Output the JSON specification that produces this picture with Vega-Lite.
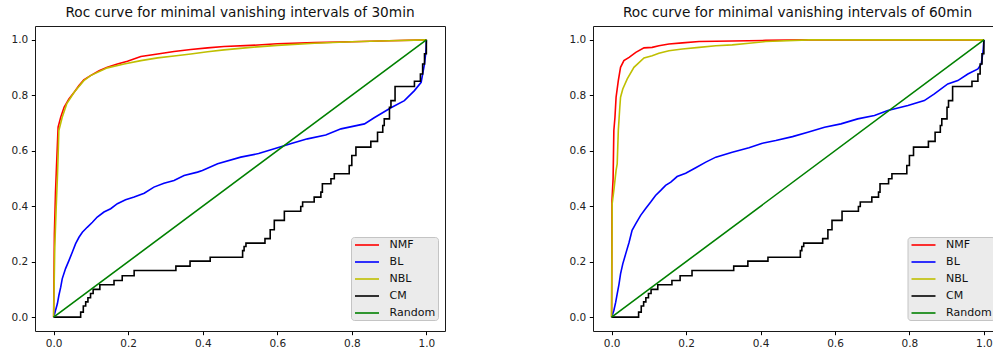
{
  "$schema": "https://vega.github.io/schema/vega-lite/v6.json",
  "padding": {"left": 10, "top": 5, "right": 0, "bottom": 0},
  "spacing": 148,
  "bounds": "flush",
  "datasets": {
    "p30": [
      {"s":"NMF","x":0,"y":0},{"s":"NMF","x":0.002,"y":0.3},{"s":"NMF","x":0.005,"y":0.45},{"s":"NMF","x":0.007,"y":0.52},{"s":"NMF","x":0.010,"y":0.62},{"s":"NMF","x":0.012,"y":0.685},{"s":"NMF","x":0.019,"y":0.721},{"s":"NMF","x":0.028,"y":0.757},{"s":"NMF","x":0.041,"y":0.787},{"s":"NMF","x":0.055,"y":0.811},{"s":"NMF","x":0.068,"y":0.835},{"s":"NMF","x":0.081,"y":0.856},{"s":"NMF","x":0.099,"y":0.871},{"s":"NMF","x":0.122,"y":0.889},{"s":"NMF","x":0.144,"y":0.901},{"s":"NMF","x":0.171,"y":0.913},{"s":"NMF","x":0.198,"y":0.923},{"s":"NMF","x":0.234,"y":0.94},{"s":"NMF","x":0.279,"y":0.949},{"s":"NMF","x":0.323,"y":0.958},{"s":"NMF","x":0.368,"y":0.965},{"s":"NMF","x":0.413,"y":0.971},{"s":"NMF","x":0.457,"y":0.976},{"s":"NMF","x":0.529,"y":0.98},{"s":"NMF","x":0.6,"y":0.986},{"s":"NMF","x":0.7,"y":0.99},{"s":"NMF","x":0.8,"y":0.993},{"s":"NMF","x":0.9,"y":0.997},{"s":"NMF","x":1,"y":1},
      {"s":"BL","x":0,"y":0},{"s":"BL","x":0.001,"y":0.003},{"s":"BL","x":0.005,"y":0.024},{"s":"BL","x":0.010,"y":0.048},{"s":"BL","x":0.014,"y":0.078},{"s":"BL","x":0.019,"y":0.108},{"s":"BL","x":0.023,"y":0.138},{"s":"BL","x":0.032,"y":0.175},{"s":"BL","x":0.041,"y":0.204},{"s":"BL","x":0.050,"y":0.234},{"s":"BL","x":0.059,"y":0.265},{"s":"BL","x":0.068,"y":0.288},{"s":"BL","x":0.077,"y":0.306},{"s":"BL","x":0.090,"y":0.324},{"s":"BL","x":0.104,"y":0.342},{"s":"BL","x":0.117,"y":0.361},{"s":"BL","x":0.135,"y":0.379},{"s":"BL","x":0.153,"y":0.391},{"s":"BL","x":0.171,"y":0.409},{"s":"BL","x":0.193,"y":0.423},{"s":"BL","x":0.216,"y":0.433},{"s":"BL","x":0.243,"y":0.447},{"s":"BL","x":0.269,"y":0.469},{"s":"BL","x":0.296,"y":0.483},{"s":"BL","x":0.323,"y":0.493},{"s":"BL","x":0.35,"y":0.511},{"s":"BL","x":0.386,"y":0.523},{"s":"BL","x":0.399,"y":0.529},{"s":"BL","x":0.44,"y":0.553},{"s":"BL","x":0.502,"y":0.577},{"s":"BL","x":0.55,"y":0.59},{"s":"BL","x":0.592,"y":0.607},{"s":"BL","x":0.64,"y":0.627},{"s":"BL","x":0.681,"y":0.643},{"s":"BL","x":0.73,"y":0.657},{"s":"BL","x":0.771,"y":0.679},{"s":"BL","x":0.834,"y":0.697},{"s":"BL","x":0.86,"y":0.719},{"s":"BL","x":0.905,"y":0.755},{"s":"BL","x":0.941,"y":0.781},{"s":"BL","x":0.968,"y":0.817},{"s":"BL","x":0.986,"y":0.847},{"s":"BL","x":0.995,"y":0.913},{"s":"BL","x":0.999,"y":0.96},{"s":"BL","x":1,"y":1},
      {"s":"NBL","x":0,"y":0},{"s":"NBL","x":0.003,"y":0.25},{"s":"NBL","x":0.007,"y":0.4},{"s":"NBL","x":0.010,"y":0.5},{"s":"NBL","x":0.012,"y":0.58},{"s":"NBL","x":0.014,"y":0.673},{"s":"NBL","x":0.023,"y":0.721},{"s":"NBL","x":0.035,"y":0.769},{"s":"NBL","x":0.055,"y":0.811},{"s":"NBL","x":0.081,"y":0.853},{"s":"NBL","x":0.099,"y":0.871},{"s":"NBL","x":0.144,"y":0.899},{"s":"NBL","x":0.189,"y":0.913},{"s":"NBL","x":0.234,"y":0.925},{"s":"NBL","x":0.279,"y":0.935},{"s":"NBL","x":0.323,"y":0.942},{"s":"NBL","x":0.368,"y":0.949},{"s":"NBL","x":0.413,"y":0.957},{"s":"NBL","x":0.457,"y":0.964},{"s":"NBL","x":0.529,"y":0.973},{"s":"NBL","x":0.6,"y":0.98},{"s":"NBL","x":0.7,"y":0.988},{"s":"NBL","x":0.8,"y":0.993},{"s":"NBL","x":0.9,"y":0.997},{"s":"NBL","x":1,"y":1}
    ],
    "p60": [
      {"s":"NMF","x":0,"y":0},{"s":"NMF","x":0.0005,"y":0.2},{"s":"NMF","x":0.001,"y":0.42},{"s":"NMF","x":0.004,"y":0.5},{"s":"NMF","x":0.006,"y":0.673},{"s":"NMF","x":0.009,"y":0.721},{"s":"NMF","x":0.012,"y":0.793},{"s":"NMF","x":0.018,"y":0.853},{"s":"NMF","x":0.024,"y":0.901},{"s":"NMF","x":0.033,"y":0.925},{"s":"NMF","x":0.047,"y":0.937},{"s":"NMF","x":0.065,"y":0.955},{"s":"NMF","x":0.087,"y":0.971},{"s":"NMF","x":0.109,"y":0.973},{"s":"NMF","x":0.127,"y":0.979},{"s":"NMF","x":0.154,"y":0.985},{"s":"NMF","x":0.19,"y":0.989},{"s":"NMF","x":0.235,"y":0.994},{"s":"NMF","x":0.324,"y":0.996},{"s":"NMF","x":0.414,"y":0.998},{"s":"NMF","x":0.53,"y":1},{"s":"NMF","x":1,"y":1},
      {"s":"BL","x":0,"y":0},{"s":"BL","x":0.006,"y":0.024},{"s":"BL","x":0.011,"y":0.054},{"s":"BL","x":0.015,"y":0.084},{"s":"BL","x":0.02,"y":0.12},{"s":"BL","x":0.024,"y":0.156},{"s":"BL","x":0.03,"y":0.192},{"s":"BL","x":0.038,"y":0.229},{"s":"BL","x":0.047,"y":0.27},{"s":"BL","x":0.055,"y":0.313},{"s":"BL","x":0.065,"y":0.337},{"s":"BL","x":0.078,"y":0.367},{"s":"BL","x":0.091,"y":0.391},{"s":"BL","x":0.105,"y":0.415},{"s":"BL","x":0.118,"y":0.439},{"s":"BL","x":0.132,"y":0.457},{"s":"BL","x":0.145,"y":0.475},{"s":"BL","x":0.159,"y":0.487},{"s":"BL","x":0.176,"y":0.507},{"s":"BL","x":0.199,"y":0.519},{"s":"BL","x":0.226,"y":0.539},{"s":"BL","x":0.253,"y":0.559},{"s":"BL","x":0.28,"y":0.577},{"s":"BL","x":0.324,"y":0.595},{"s":"BL","x":0.369,"y":0.611},{"s":"BL","x":0.405,"y":0.627},{"s":"BL","x":0.441,"y":0.637},{"s":"BL","x":0.486,"y":0.651},{"s":"BL","x":0.527,"y":0.667},{"s":"BL","x":0.572,"y":0.685},{"s":"BL","x":0.616,"y":0.697},{"s":"BL","x":0.661,"y":0.715},{"s":"BL","x":0.706,"y":0.727},{"s":"BL","x":0.742,"y":0.745},{"s":"BL","x":0.796,"y":0.763},{"s":"BL","x":0.84,"y":0.781},{"s":"BL","x":0.867,"y":0.805},{"s":"BL","x":0.903,"y":0.841},{"s":"BL","x":0.93,"y":0.853},{"s":"BL","x":0.957,"y":0.877},{"s":"BL","x":0.984,"y":0.895},{"s":"BL","x":0.993,"y":0.913},{"s":"BL","x":0.998,"y":0.96},{"s":"BL","x":1,"y":1},
      {"s":"NBL","x":0,"y":0},{"s":"NBL","x":0.0008,"y":0.2},{"s":"NBL","x":0.0015,"y":0.409},{"s":"NBL","x":0.006,"y":0.457},{"s":"NBL","x":0.012,"y":0.529},{"s":"NBL","x":0.015,"y":0.553},{"s":"NBL","x":0.018,"y":0.673},{"s":"NBL","x":0.022,"y":0.757},{"s":"NBL","x":0.024,"y":0.793},{"s":"NBL","x":0.03,"y":0.823},{"s":"NBL","x":0.042,"y":0.859},{"s":"NBL","x":0.06,"y":0.901},{"s":"NBL","x":0.087,"y":0.935},{"s":"NBL","x":0.109,"y":0.943},{"s":"NBL","x":0.127,"y":0.952},{"s":"NBL","x":0.154,"y":0.961},{"s":"NBL","x":0.19,"y":0.967},{"s":"NBL","x":0.235,"y":0.973},{"s":"NBL","x":0.28,"y":0.979},{"s":"NBL","x":0.324,"y":0.982},{"s":"NBL","x":0.369,"y":0.988},{"s":"NBL","x":0.414,"y":0.994},{"s":"NBL","x":0.53,"y":1},{"s":"NBL","x":1,"y":1}
    ],
    "cm": [
      {"s":"CM","x":0,"y":0},{"s":"CM","x":0.0725,"y":0.018},{"s":"CM","x":0.0796,"y":0.04},{"s":"CM","x":0.086,"y":0.055},{"s":"CM","x":0.092,"y":0.07},{"s":"CM","x":0.099,"y":0.085},{"s":"CM","x":0.106,"y":0.1},{"s":"CM","x":0.124,"y":0.117},{"s":"CM","x":0.162,"y":0.132},{"s":"CM","x":0.184,"y":0.149},{"s":"CM","x":0.216,"y":0.168},{"s":"CM","x":0.328,"y":0.184},{"s":"CM","x":0.366,"y":0.202},{"s":"CM","x":0.42,"y":0.216},{"s":"CM","x":0.507,"y":0.24},{"s":"CM","x":0.511,"y":0.255},{"s":"CM","x":0.516,"y":0.267},{"s":"CM","x":0.567,"y":0.283},{"s":"CM","x":0.581,"y":0.315},{"s":"CM","x":0.592,"y":0.349},{"s":"CM","x":0.619,"y":0.382},{"s":"CM","x":0.663,"y":0.399},{"s":"CM","x":0.668,"y":0.415},{"s":"CM","x":0.699,"y":0.433},{"s":"CM","x":0.717,"y":0.451},{"s":"CM","x":0.721,"y":0.481},{"s":"CM","x":0.744,"y":0.499},{"s":"CM","x":0.753,"y":0.517},{"s":"CM","x":0.793,"y":0.547},{"s":"CM","x":0.8,"y":0.583},{"s":"CM","x":0.811,"y":0.613},{"s":"CM","x":0.851,"y":0.634},{"s":"CM","x":0.869,"y":0.667},{"s":"CM","x":0.883,"y":0.691},{"s":"CM","x":0.887,"y":0.715},{"s":"CM","x":0.901,"y":0.757},{"s":"CM","x":0.905,"y":0.781},{"s":"CM","x":0.916,"y":0.832},{"s":"CM","x":0.968,"y":0.851},{"s":"CM","x":0.984,"y":0.877},{"s":"CM","x":0.99,"y":0.913},{"s":"CM","x":0.995,"y":0.95},{"s":"CM","x":1,"y":1}
    ],
    "rnd": [
      {"s":"Random","x":0,"y":0},{"s":"Random","x":1,"y":1}
    ]
  },
  "resolve": {"scale": {"color": "independent"}, "legend": {"color": "independent"}},
  "hconcat": [
    {
      "width": 410, "height": 305,
      "title": {"text": "Roc curve for minimal vanishing intervals of 30min"},
      "layer": [
        {"data": {"name": "p30"}, "mark": {"type": "line", "strokeWidth": 1.6},
         "encoding": {
           "x": {"field": "x", "type": "quantitative", "scale": {"domain": [-0.05, 1.05], "nice": false, "zero": false}, "axis": {"values": [0, 0.2, 0.4, 0.6, 0.8, 1], "format": ".1f", "title": null}},
           "y": {"field": "y", "type": "quantitative", "scale": {"domain": [-0.05, 1.05], "nice": false, "zero": false}, "axis": {"values": [0, 0.2, 0.4, 0.6, 0.8, 1], "format": ".1f", "title": null}},
           "color": {"field": "s", "type": "nominal", "scale": {"domain": ["NMF", "BL", "NBL", "CM", "Random"], "range": ["#ff0000", "#0000ff", "#bfbf00", "#000000", "#008000"]}, "legend": {"legendX": 316, "legendY": 211}}
         }},
        {"data": {"name": "cm"}, "mark": {"type": "line", "strokeWidth": 1.6, "interpolate": "step-after"},
         "encoding": {
           "x": {"field": "x", "type": "quantitative"},
           "y": {"field": "y", "type": "quantitative"},
           "color": {"field": "s", "type": "nominal"}
         }},
        {"data": {"name": "rnd"}, "mark": {"type": "line", "strokeWidth": 1.6},
         "encoding": {
           "x": {"field": "x", "type": "quantitative"},
           "y": {"field": "y", "type": "quantitative"},
           "color": {"field": "s", "type": "nominal"}
         }}
      ]
    },
    {
      "width": 401, "height": 305,
      "title": {"text": "Roc curve for minimal vanishing intervals of 60min", "anchor": "middle", "dx": 4},
      "layer": [
        {"data": {"name": "p60"}, "mark": {"type": "line", "strokeWidth": 1.6},
         "encoding": {
           "x": {"field": "x", "type": "quantitative", "scale": {"domain": [-0.05, 1.0272], "nice": false, "zero": false}, "axis": {"values": [0, 0.2, 0.4, 0.6, 0.8, 1], "format": ".1f", "title": null}},
           "y": {"field": "y", "type": "quantitative", "scale": {"domain": [-0.05, 1.05], "nice": false, "zero": false}, "axis": {"values": [0, 0.2, 0.4, 0.6, 0.8, 1], "format": ".1f", "title": null}},
           "color": {"field": "s", "type": "nominal", "scale": {"domain": ["NMF", "BL", "NBL", "CM", "Random"], "range": ["#ff0000", "#0000ff", "#bfbf00", "#000000", "#008000"]}, "legend": {"legendX": 314.5, "legendY": 211}}
         }},
        {"data": {"name": "cm"}, "mark": {"type": "line", "strokeWidth": 1.6, "interpolate": "step-after"},
         "encoding": {
           "x": {"field": "x", "type": "quantitative"},
           "y": {"field": "y", "type": "quantitative"},
           "color": {"field": "s", "type": "nominal"}
         }},
        {"data": {"name": "rnd"}, "mark": {"type": "line", "strokeWidth": 1.6},
         "encoding": {
           "x": {"field": "x", "type": "quantitative"},
           "y": {"field": "y", "type": "quantitative"},
           "color": {"field": "s", "type": "nominal"}
         }}
      ]
    }
  ],
  "config": {
    "font": "DejaVu Sans",
    "view": {"stroke": "#1a1a1a", "strokeWidth": 1},
    "axis": {"domain": false, "grid": false, "tickColor": "#000", "tickSize": 3.7, "tickWidth": 1, "labelColor": "#222", "labelFontSize": 10.5, "labelFont": "DejaVu Sans", "labelPadding": 3.5, "labelFlush": false, "title": null},
    "title": {"fontSize": 13.7, "fontWeight": "normal", "font": "DejaVu Sans", "color": "#111", "offset": 6, "anchor": "middle"},
    "legend": {"orient": "none", "title": null, "fillColor": "#ebebeb", "strokeColor": "#c4c4c4", "padding": 2, "cornerRadius": 3, "symbolType": "M-0.8,0H4", "symbolSize": 100, "symbolStrokeWidth": 1.6, "labelOffset": 24.6, "labelFontSize": 11, "labelFont": "DejaVu Sans", "labelColor": "#111", "rowPadding": 6}
  }
}
